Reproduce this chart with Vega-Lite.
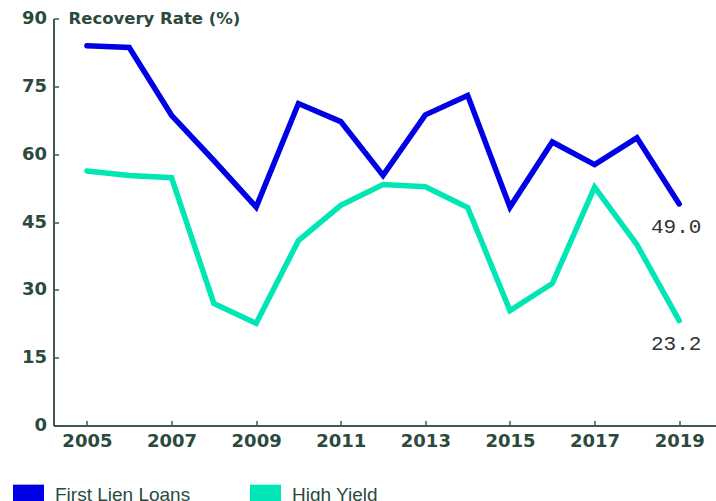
{
  "$schema": "https://vega.github.io/schema/vega-lite/v6.json",
  "width": 662.5,
  "height": 407,
  "autosize": {"type": "none"},
  "padding": {"left": 53.5, "top": 18.5, "right": 0, "bottom": 75.5},
  "config": {
    "view": {"stroke": null},
    "font": "Liberation Sans"
  },
  "data": {
    "values": [
      {"year": 2005, "series": "First Lien Loans", "rate": 84.0},
      {"year": 2006, "series": "First Lien Loans", "rate": 83.6},
      {"year": 2007, "series": "First Lien Loans", "rate": 68.6},
      {"year": 2008, "series": "First Lien Loans", "rate": 58.6},
      {"year": 2009, "series": "First Lien Loans", "rate": 48.3},
      {"year": 2010, "series": "First Lien Loans", "rate": 71.2},
      {"year": 2011, "series": "First Lien Loans", "rate": 67.2},
      {"year": 2012, "series": "First Lien Loans", "rate": 55.3},
      {"year": 2013, "series": "First Lien Loans", "rate": 68.7},
      {"year": 2014, "series": "First Lien Loans", "rate": 73.0},
      {"year": 2015, "series": "First Lien Loans", "rate": 48.3},
      {"year": 2016, "series": "First Lien Loans", "rate": 62.7},
      {"year": 2017, "series": "First Lien Loans", "rate": 57.7},
      {"year": 2018, "series": "First Lien Loans", "rate": 63.6},
      {"year": 2019, "series": "First Lien Loans", "rate": 49.0},
      {"year": 2005, "series": "High Yield", "rate": 56.3},
      {"year": 2006, "series": "High Yield", "rate": 55.3},
      {"year": 2007, "series": "High Yield", "rate": 54.8},
      {"year": 2008, "series": "High Yield", "rate": 27.0},
      {"year": 2009, "series": "High Yield", "rate": 22.6},
      {"year": 2010, "series": "High Yield", "rate": 40.9},
      {"year": 2011, "series": "High Yield", "rate": 48.7},
      {"year": 2012, "series": "High Yield", "rate": 53.3},
      {"year": 2013, "series": "High Yield", "rate": 52.8},
      {"year": 2014, "series": "High Yield", "rate": 48.2},
      {"year": 2015, "series": "High Yield", "rate": 25.4},
      {"year": 2016, "series": "High Yield", "rate": 31.4},
      {"year": 2017, "series": "High Yield", "rate": 52.7},
      {"year": 2018, "series": "High Yield", "rate": 40.0},
      {"year": 2019, "series": "High Yield", "rate": 23.2}
    ]
  },
  "encoding": {
    "x": {
      "field": "year",
      "type": "quantitative",
      "scale": {"domain": [2004.21, 2019.87], "nice": false, "zero": false},
      "axis": {
        "title": null,
        "values": [2005, 2007, 2009, 2011, 2013, 2015, 2017, 2019],
        "format": "d",
        "grid": false,
        "domainColor": "#3d5a4c",
        "domainWidth": 2,
        "tickColor": "#3d5a4c",
        "tickWidth": 1.5,
        "tickSize": -5,
        "labelPadding": 12,
        "labelBaseline": "top",
        "labelFont": "DejaVu Sans",
        "labelFontWeight": "bold",
        "labelFontSize": 18,
        "labelColor": "#2b4a3d",
        "labelFlush": false
      }
    },
    "y": {
      "field": "rate",
      "type": "quantitative",
      "scale": {"domain": [0, 90], "nice": false},
      "axis": {
        "values": [0, 15, 30, 45, 60, 75, 90],
        "grid": false,
        "domainColor": "#3d5a4c",
        "domainWidth": 2,
        "tickColor": "#3d5a4c",
        "tickWidth": 1.5,
        "tickSize": -5,
        "labelPadding": 12,
        "labelFont": "DejaVu Sans",
        "labelFontWeight": "bold",
        "labelFontSize": 18,
        "labelColor": "#2b4a3d",
        "labelFlush": false,
        "title": "Recovery Rate (%)",
        "titleAngle": 0,
        "titleAlign": "left",
        "titleBaseline": "middle",
        "titleX": 14.5,
        "titleY": 0,
        "titleFont": "DejaVu Sans",
        "titleFontWeight": "bold",
        "titleFontSize": 16.5,
        "titleColor": "#2b4a3d"
      }
    }
  },
  "layer": [
    {
      "mark": {"type": "line", "strokeWidth": 5.5, "strokeCap": "round", "strokeJoin": "miter"},
      "encoding": {
        "color": {
          "field": "series",
          "type": "nominal",
          "scale": {"domain": ["First Lien Loans", "High Yield"], "range": ["#0000e6", "#00e6b4"]},
          "legend": {
            "title": null,
            "orient": "none",
            "direction": "horizontal",
            "columns": 2,
            "padding": 0,
            "legendX": -40.5,
            "legendY": 460.5,
            "symbolType": "M-1,-0.65H1V0.65H-1Z",
            "symbolSize": 961,
            "symbolStrokeWidth": 0,
            "symbolOpacity": 1,
            "labelFont": "Liberation Sans",
            "labelFontSize": 19,
            "labelColor": "#2b4a3d",
            "labelOffset": 11,
            "columnPadding": 59,
            "encode": {
              "symbols": {
                "update": {
                  "fill": {"scale": "color", "field": "value"},
                  "fillOpacity": {"value": 1},
                  "strokeWidth": {"value": 0}
                }
              }
            }
          }
        }
      }
    },
    {
      "transform": [{"filter": "datum.year == 2019"}],
      "mark": {"type": "text", "font": "Liberation Mono", "fontSize": 21, "color": "#333333", "dx": -3, "dy": 23, "baseline": "middle", "align": "center"},
      "encoding": {
        "text": {"field": "rate", "type": "quantitative", "format": ".1f"}
      }
    }
  ]
}
